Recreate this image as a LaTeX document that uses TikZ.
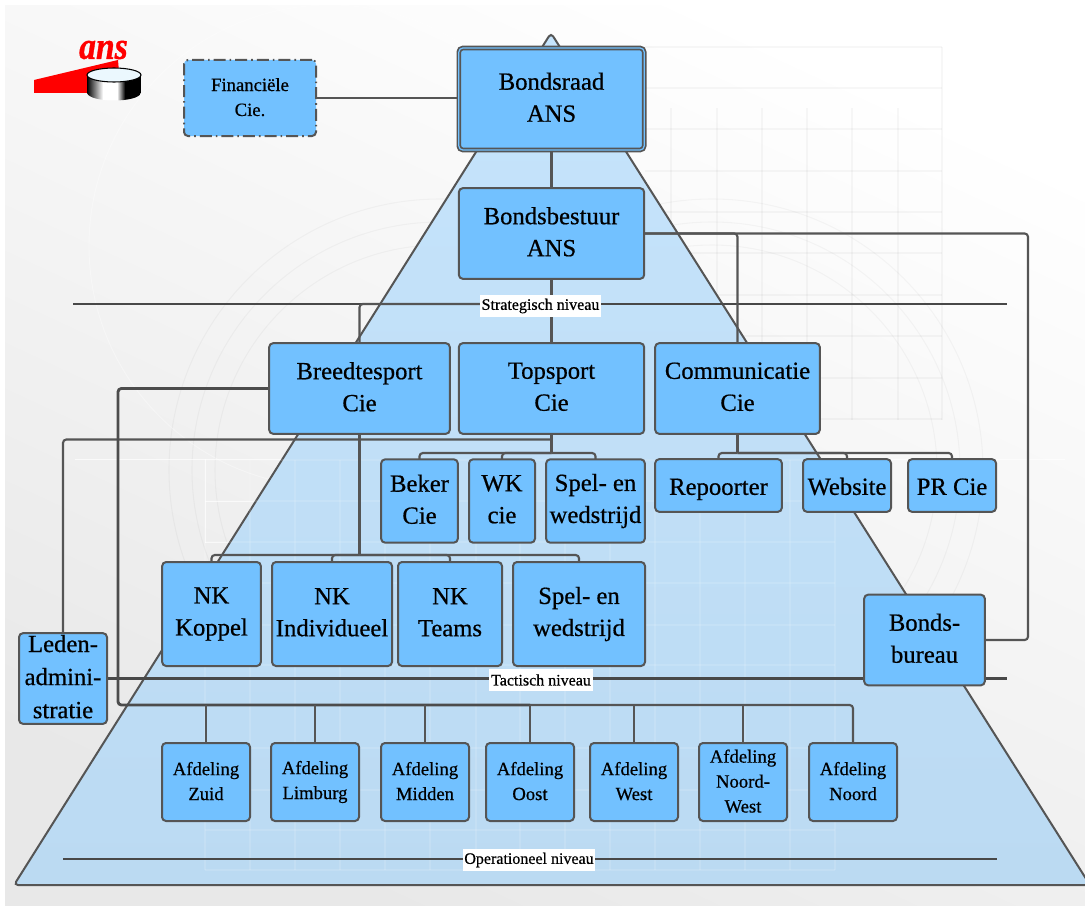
\documentclass[tikz,border=0pt]{standalone}
\usepackage{fontspec}
\setmainfont{Liberation Serif}[FakeBold=0.6]
\usepackage{tikz}
\usetikzlibrary{backgrounds,calc}
\definecolor{vakblauw}{HTML}{72C1FF}
\definecolor{lijngrijs}{HTML}{555555}
\definecolor{pyramideboven}{HTML}{C6E4FC}
\definecolor{pyramideonder}{HTML}{BBDAF2}
\definecolor{achteronder}{HTML}{E8E8E8}
\newcommand{\orgstrut}{\rule[\dimexpr-.24\baselineskip+3pt\relax]{0pt}{\baselineskip}}
\newcommand{\enkelstrut}{\rule[\dimexpr-.24\baselineskip-1.5pt\relax]{0pt}{\baselineskip}}
\tikzset{
  orgbox/.style={draw=lijngrijs,fill=vakblauw,line width=1.5pt,rounded corners=3pt,
    inner sep=0pt,outer sep=0pt,align=center,text=black,
    execute at begin node=\orgstrut,execute at end node=\orgstrut,
    font=\fontsize{18.5}{24}\selectfont},
  orgenkel/.style={orgbox,execute at begin node=\enkelstrut,execute at end node=\enkelstrut},
  orgklein/.style={orgbox,font=\fontsize{14}{18.7}\selectfont},
  niveau/.style={fill=white,inner sep=0pt,outer sep=0pt,minimum height=16pt,
    font=\fontsize{12}{14}\selectfont},
  verbinding/.style={draw=lijngrijs,line width=1.6pt,rounded corners=2.5pt},
  zwaar/.style={draw=lijngrijs!90!black,line width=2.1pt,rounded corners=2.5pt},
  niveaulijn/.style={draw=lijngrijs!85!black,line width=1.6pt},
  raster/.style={draw=black,opacity=0.03,line width=0.8pt},
  witlijn/.style={white,opacity=0.7,line width=0.7pt}
}
\begin{document}
\begin{tikzpicture}[x=0.75pt,y=-0.75pt]
\useasboundingbox (0,0) rectangle (1085,906);

\node[orgbox,double=vakblauw,double distance=0.9pt,line width=1.3pt,minimum width=139pt,minimum height=76.5pt] (bondsraad) at (551.5,99) {Bondsraad\\ANS};
\node[orgbox,minimum width=139pt,minimum height=68pt] (bondsbestuur) at (551.5,233.5) {Bondsbestuur\\ANS};
\node[orgklein,dash pattern=on 9pt off 3pt on 1.2pt off 3pt,minimum width=99pt,minimum height=57pt] (financieel) at (250,98) {Financiële\\Cie.};

\node[orgbox,minimum width=135.5pt,minimum height=68pt] (breedtesport) at (359.5,388.5) {Breedtesport\\Cie};
\node[orgbox,minimum width=139pt,minimum height=68pt] (topsport) at (551.5,388.5) {Topsport\\Cie};
\node[orgbox,minimum width=123.5pt,minimum height=68pt] (communicatie) at (737.5,388.5) {Communicatie\\Cie};

\node[orgbox,minimum width=57.5pt,minimum height=62.5pt] (beker) at (419.5,501) {Beker\\Cie};
\node[orgbox,minimum width=49.5pt,minimum height=62.5pt] (wk) at (502,501) {WK\\cie};
\node[orgbox,minimum width=74pt,minimum height=62.5pt] (spelboven) at (595.5,501) {Spel- en\\wedstrijd};
\node[orgenkel,minimum width=95pt,minimum height=39.5pt] (repoorter) at (718.5,485.5) {Repoorter};
\node[orgenkel,minimum width=66pt,minimum height=39.5pt] (website) at (847,485.5) {Website};
\node[orgenkel,minimum width=66pt,minimum height=39.5pt] (prcie) at (952,485.5) {PR Cie};

\node[orgbox,minimum width=74pt,minimum height=78pt] (koppel) at (211.5,614) {NK\\Koppel};
\node[orgbox,minimum width=90pt,minimum height=78pt] (individueel) at (332,614) {NK\\Individueel};
\node[orgbox,minimum width=78pt,minimum height=78pt] (teams) at (450,614) {NK\\Teams};
\node[orgbox,minimum width=99pt,minimum height=78pt] (spelonder) at (579,614) {Spel- en\\wedstrijd};

\node[orgbox,minimum width=66pt,minimum height=68pt,font=\fontsize{18.5}{24.8}\selectfont] (leden) at (63,678.5) {Leden-\\admini-\\stratie};
\node[orgbox,minimum width=90.5pt,minimum height=68pt] (bureau) at (924.5,640) {Bonds-\\bureau};

\node[orgklein,minimum width=66pt,minimum height=58.5pt] (zuid) at (206,782) {Afdeling\\Zuid};
\node[orgklein,minimum width=66pt,minimum height=58.5pt] (limburg) at (315,782) {Afdeling\\Limburg};
\node[orgklein,minimum width=66pt,minimum height=58.5pt] (midden) at (425,782) {Afdeling\\Midden};
\node[orgklein,minimum width=66pt,minimum height=58.5pt] (oost) at (530,782) {Afdeling\\Oost};
\node[orgklein,minimum width=66pt,minimum height=58.5pt] (west) at (634,782) {Afdeling\\West};
\node[orgklein,minimum width=66pt,minimum height=58.5pt] (noordwest) at (743,782) {Afdeling\\Noord-\\West};
\node[orgklein,minimum width=66pt,minimum height=58.5pt] (noord) at (853,782) {Afdeling\\Noord};

\node[niveau,minimum width=91pt] (strategisch) at (540.5,306) {Strategisch niveau};
\node[niveau,minimum width=78pt] (tactisch) at (541,680) {Tactisch niveau};
\node[niveau,minimum width=99pt] (operationeel) at (529,860) {Operationeel niveau};

\coordinate (stratL) at (73,304);
\coordinate (stratR) at (1007,304);
\coordinate (tactR) at (1007,678.5);
\coordinate (operL) at (63,859);
\coordinate (operR) at (997,859);
\coordinate (stratknik) at (551.5,304);
\coordinate (ledenknik) at (551.5,439.5);
\coordinate (topknik) at (551.5,453);
\coordinate (commknik) at (737.5,453);
\coordinate (breedteknik) at (359.5,555);
\coordinate (afdboven) at (118,388.5);
\coordinate (afdonder) at (118,705);
\coordinate (bureauknik) at (1028,640);

\node[text=red,inner sep=0pt,yscale=1.2,xscale=1.05,font=\fontsize{24}{24}\selectfont\bfseries\itshape\addfontfeature{FakeBold=1}] (logotekst) at (103.5,50) {ans};

\begin{pgfonlayer}{background}
\shade[bottom color=achteronder,top color=white,shading angle=-25] (5,6) rectangle (1085,906);
\foreach \rx in {671,717,762,807,852,898}
  \draw[raster] (\rx,108) -- (\rx,420);
\draw[raster] (942,47) -- (942,420);
\foreach \ry in {47,88,129,171,212,253,295,336,378,419}
  \draw[raster] (645,\ry) -- (942,\ry);
\foreach \rr in {225,248,271}{
  \draw[raster] (712,470) circle[radius=\rr*0.75pt];
  \draw[raster] (440,470) circle[radius=\rr*0.75pt];
}
\draw[white,opacity=0.35,line width=0.7pt] (330,246) circle[radius=180.75pt];
\draw[witlijn] (75,459) -- (1065,459);
\foreach \ry in {501,542}
  \draw[witlijn] (205,\ry) -- (300,\ry);
\draw[witlijn] (205,459) -- (205,543);

\draw[draw=lijngrijs,line width=1.5pt,rounded corners=3pt,top color=pyramideboven,bottom color=pyramideonder] (551,33) -- (1090,885) -- (14,885) -- cycle;
\foreach \rx in {205,250,295,340,385,430,476,520,565,610,655,700,745,790,835}
  \draw[white,opacity=0.12,line width=0.8pt] (\rx,460) -- (\rx,870);
\foreach \ry in {460,501,542,583,625,665,705,748,790,830,870}
  \draw[white,opacity=0.12,line width=0.8pt] (205,\ry) -- (835,\ry);

\fill[red] (34,80) -- (118,60) -- (119,72) -- (90,93) -- (34,93) -- cycle;
\begin{scope}
\clip (87,75) -- (87,93) .. controls (90,103) and (138,103) .. (141,93) -- (141,75) -- cycle;
\shade[left color=black,right color=white] (87,70) rectangle (103,105);
\fill[white] (103,70) rectangle (117,105);
\shade[left color=white,right color=black] (117,70) rectangle (125,105);
\fill[black] (125,70) rectangle (141,105);
\end{scope}
\draw[black,line width=0.8pt,fill=cyan!8!white] (114,75) ellipse[x radius=20.25pt,y radius=5.25pt];

\draw[niveaulijn] (stratL) -- (stratR);
\draw[niveaulijn] (leden.east) -- (tactR);
\draw[niveaulijn] (operL) -- (operR);

\draw[verbinding] (financieel.east) -- (financieel.east -| bondsraad.west);
\draw[verbinding] (bondsraad.south) -- (bondsbestuur.north);
\draw[verbinding] (bondsbestuur.south) -- (topsport.north);
\draw[verbinding] (breedtesport.north) |- (stratknik);
\draw[verbinding] (bondsbestuur.east) -| (communicatie.north);
\draw[verbinding] (bondsbestuur.east) -| (bureauknik) -- (bureau.east);

\draw[verbinding] (leden.north) |- (ledenknik);
\draw[verbinding] (topsport.south) -- (topknik);
\draw[verbinding] (topknik) -| (beker.north);
\draw[verbinding] (topknik) -| (wk.north);
\draw[verbinding] (topknik) -| (spelboven.north);

\draw[verbinding] (communicatie.south) -- (commknik);
\draw[verbinding] (commknik) -| (repoorter.north);
\draw[verbinding] (commknik) -| (website.north);
\draw[verbinding] (commknik) -| (prcie.north);

\draw[verbinding] (breedtesport.south) -- (breedteknik);
\draw[verbinding] (breedteknik) -| (koppel.north);
\draw[verbinding] (breedteknik) -| (individueel.north);
\draw[verbinding] (breedteknik) -| (teams.north);
\draw[verbinding] (breedteknik) -| (spelonder.north);

\draw[zwaar] (breedtesport.west) -- (afdboven) -- (afdonder) -- (oost.north |- afdonder);
\draw[verbinding] (oost.north |- afdonder) -| (noord.north);
\draw[verbinding] (zuid.north) -- (zuid.north |- afdonder);
\draw[verbinding] (limburg.north) -- (limburg.north |- afdonder);
\draw[verbinding] (midden.north) -- (midden.north |- afdonder);
\draw[verbinding] (oost.north) -- (oost.north |- afdonder);
\draw[verbinding] (west.north) -- (west.north |- afdonder);
\draw[verbinding] (noordwest.north) -- (noordwest.north |- afdonder);
\end{pgfonlayer}
\end{tikzpicture}
\end{document}
